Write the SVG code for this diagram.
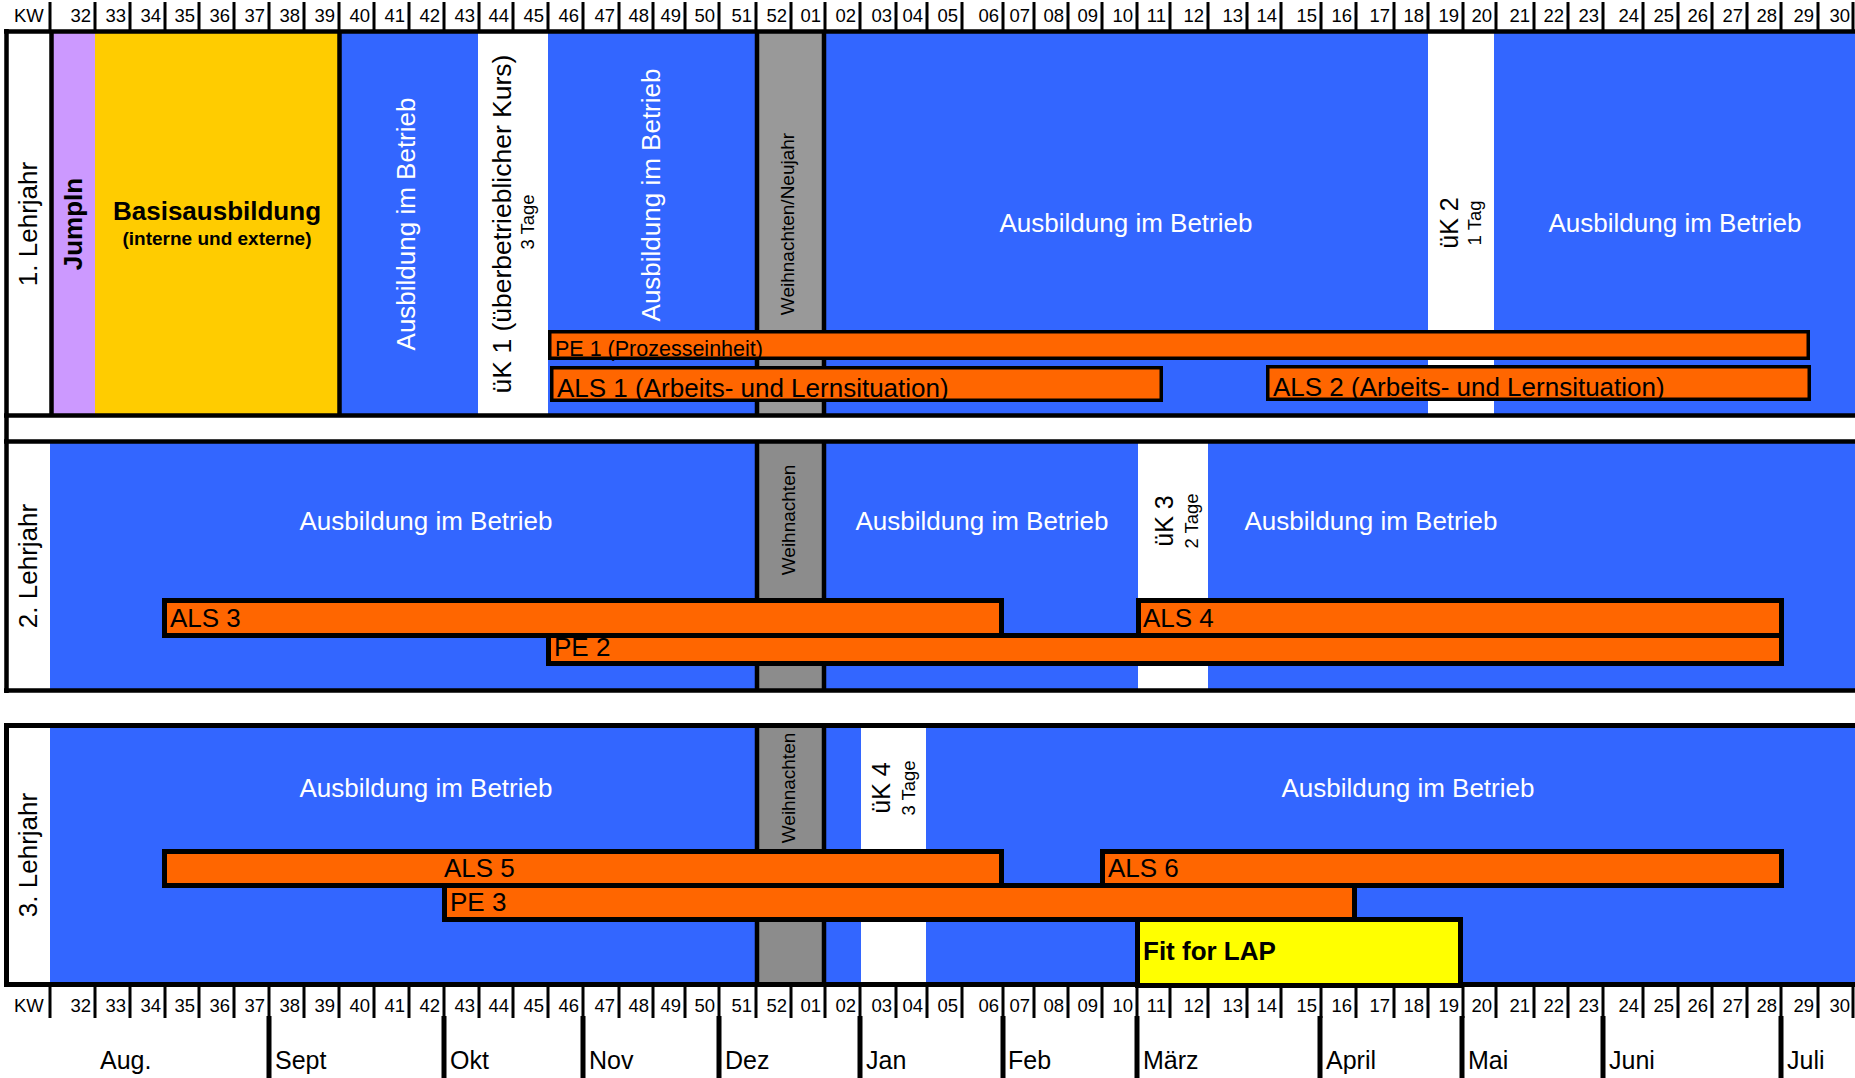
<svg xmlns="http://www.w3.org/2000/svg" width="1855" height="1078" viewBox="0 0 1855 1078">
<style>
text{font-family:"Liberation Sans",Arial,sans-serif;fill:#000}
.wk{font-size:18.5px;text-anchor:end}
.mo{font-size:25px}
.blue{fill:#3366FF}
.gray{fill:#999999}
.gray2{fill:#8C8C8C}
.white{fill:#FFFFFF}
.bar{fill:#FF6600;stroke:#000;stroke-width:3.5}
.bar5{fill:#FF6600;stroke:#000;stroke-width:5}
.ln{stroke:#000;fill:none}
.aib{font-size:26px;fill:#FFFFFF;text-anchor:middle}
.big{font-size:26px}
.uk{font-size:25px;text-anchor:middle}
.tage{font-size:18.5px;text-anchor:middle}
.xmas{font-size:19px;text-anchor:middle}
.lj{font-size:26px;text-anchor:middle}
.bt{font-size:26px}
</style>
<rect width="1855" height="1078" fill="#FFFFFF"/>

<g id="header-top">
<path class="ln" stroke-width="3" d="M50 2V32M95 2V32M130 2V32M165 2V32M199 2V32M234 2V32M269 2V32M304 2V32M339 2V32M374 2V32M409 2V32M444 2V32M479 2V32M513 2V32M548 2V32M583 2V32M619 2V32M653 2V32M685 2V32M719 2V32M756 2V32M791 2V32M825 2V32M860 2V32M896 2V32M927 2V32M962 2V32M1003 2V32M1034 2V32M1068 2V32M1102 2V32M1137 2V32M1170 2V32M1208 2V32M1247 2V32M1281 2V32M1321 2V32M1356 2V32M1394 2V32M1428 2V32M1463 2V32M1496 2V32M1534 2V32M1568 2V32M1603 2V32M1643 2V32M1678 2V32M1712 2V32M1747 2V32M1781 2V32M1818 2V32M1853 2V32"/>
<text x="14" y="22" style="font-size:18.5px">KW</text>
<g class="wk">
<text x="91" y="22">32</text><text x="126" y="22">33</text><text x="161" y="22">34</text><text x="195" y="22">35</text><text x="230" y="22">36</text><text x="265" y="22">37</text><text x="300" y="22">38</text><text x="335" y="22">39</text><text x="370" y="22">40</text><text x="405" y="22">41</text><text x="440" y="22">42</text><text x="475" y="22">43</text><text x="509" y="22">44</text><text x="544" y="22">45</text><text x="579" y="22">46</text><text x="615" y="22">47</text><text x="649" y="22">48</text><text x="681" y="22">49</text><text x="715" y="22">50</text><text x="752" y="22">51</text><text x="787" y="22">52</text><text x="821" y="22">01</text><text x="856" y="22">02</text><text x="892" y="22">03</text><text x="923" y="22">04</text><text x="958" y="22">05</text><text x="999" y="22">06</text><text x="1030" y="22">07</text><text x="1064" y="22">08</text><text x="1098" y="22">09</text><text x="1133" y="22">10</text><text x="1166" y="22">11</text><text x="1204" y="22">12</text><text x="1243" y="22">13</text><text x="1277" y="22">14</text><text x="1317" y="22">15</text><text x="1352" y="22">16</text><text x="1390" y="22">17</text><text x="1424" y="22">18</text><text x="1459" y="22">19</text><text x="1492" y="22">20</text><text x="1530" y="22">21</text><text x="1564" y="22">22</text><text x="1599" y="22">23</text><text x="1639" y="22">24</text><text x="1674" y="22">25</text><text x="1708" y="22">26</text><text x="1743" y="22">27</text><text x="1777" y="22">28</text><text x="1814" y="22">29</text><text x="1850" y="22">30</text>
</g>
</g>

<g id="year1-fills">
<rect x="53" y="32" width="42" height="383" fill="#CC99FF"/>
<rect x="95" y="32" width="244" height="383" fill="#FFCC00"/>
<rect class="blue" x="341" y="32" width="137" height="383"/>
<rect class="blue" x="548" y="32" width="209" height="383"/>
<rect class="gray" x="757" y="32" width="67" height="383"/>
<rect class="blue" x="824" y="32" width="604" height="383"/>
<rect class="blue" x="1494" y="32" width="366" height="383"/>
<path class="ln" stroke-width="4.5" d="M51.5 32V415M339.5 32V415M757 32V415M824 32V415"/>
</g>

<g id="year2-fills">
<rect class="blue" x="50" y="441" width="707" height="250"/>
<rect class="gray2" x="757" y="441" width="67" height="250"/>
<rect class="blue" x="824" y="441" width="314" height="250"/>
<rect class="blue" x="1208" y="441" width="652" height="250"/>
<path class="ln" stroke-width="4.5" d="M757 441V691M824 441V691"/>
</g>

<g id="year3-fills">
<rect class="blue" x="50" y="725" width="707" height="260"/>
<rect class="gray2" x="757" y="725" width="67" height="260"/>
<rect class="blue" x="824" y="725" width="37" height="260"/>
<rect class="blue" x="926" y="725" width="934" height="260"/>
<path class="ln" stroke-width="4.5" d="M757 725V985M824 725V985"/>
</g>

<g id="frame">
<path class="ln" stroke-width="4.5" d="M4 31.5H1860M6.5 29V693M4 415.5H1860M4 441.5H1860M4 690.5H1860"/>
<path class="ln" stroke-width="5" d="M4 725.5H1860M6.5 723V987M4 984.5H1860"/>
</g>

<g id="pe1"><rect class="bar" x="549.75" y="331.75" width="1258.5" height="26.5"/><text x="555" y="356" style="font-size:21.5px">PE 1 (Prozesseinheit)</text></g>
<g id="als1"><rect class="bar" x="551.75" y="367.75" width="609.5" height="32.5"/><text class="big" x="557" y="397">ALS 1 (Arbeits- und Lernsituation)</text></g>
<g id="als2"><rect class="bar" x="1267.75" y="366.75" width="541.5" height="32.5"/><text class="big" x="1273" y="396">ALS 2 (Arbeits- und Lernsituation)</text></g>

<g id="pe2"><rect class="bar5" x="548.5" y="635.5" width="1233" height="28"/><text class="big" x="554" y="656">PE 2</text></g>
<g id="als3"><rect class="bar5" x="164.5" y="600.5" width="837" height="35"/><text class="big" x="170" y="627">ALS 3</text></g>
<g id="als4"><rect class="bar5" x="1138.5" y="600.5" width="643" height="35"/><text class="big" x="1143" y="627">ALS 4</text></g>

<g id="pe3"><rect class="bar5" x="444.5" y="885.5" width="910" height="34"/><text class="big" x="450" y="911">PE 3</text></g>
<g id="als5"><rect class="bar5" x="164.5" y="851.5" width="837" height="34"/><text class="big" x="444" y="877">ALS 5</text></g>
<g id="als6"><rect class="bar5" x="1102.5" y="851.5" width="679" height="34"/><text class="big" x="1108" y="877">ALS 6</text></g>
<g id="fitforlap"><rect x="1137.5" y="919.5" width="323" height="66" fill="#FFFF00" stroke="#000" stroke-width="5"/><text x="1143" y="960" style="font-size:26px;font-weight:bold">Fit for LAP</text></g>

<g id="labels-year1">
<text class="lj" transform="translate(36.5 224) rotate(-90)">1. Lehrjahr</text>
<text transform="translate(81.5 224) rotate(-90)" style="font-size:26px;font-weight:bold;text-anchor:middle">JumpIn</text>
<text x="217" y="220" style="font-size:26px;font-weight:bold;text-anchor:middle">Basisausbildung</text>
<text x="217" y="245" style="font-size:19px;font-weight:bold;text-anchor:middle">(interne und externe)</text>
<text class="aib" transform="translate(414.5 224) rotate(-90)">Ausbildung im Betrieb</text>
<text transform="translate(511 224) rotate(-90)" style="font-size:26.5px;text-anchor:middle">üK 1 (überbetrieblicher Kurs)</text>
<text class="tage" transform="translate(534 222) rotate(-90)">3 Tage</text>
<text class="aib" transform="translate(659.5 195) rotate(-90)">Ausbildung im Betrieb</text>
<text class="xmas" transform="translate(794 224) rotate(-90)">Weihnachten/Neujahr</text>
<text class="aib" x="1126" y="232">Ausbildung im Betrieb</text>
<text class="uk" transform="translate(1458 223) rotate(-90)">üK 2</text>
<text class="tage" transform="translate(1481 223) rotate(-90)">1 Tag</text>
<text class="aib" x="1675" y="232">Ausbildung im Betrieb</text>
</g>

<g id="labels-year2">
<text class="lj" transform="translate(36.5 566) rotate(-90)">2. Lehrjahr</text>
<text class="aib" x="426" y="530">Ausbildung im Betrieb</text>
<text class="xmas" transform="translate(795 520) rotate(-90)">Weihnachten</text>
<text class="aib" x="982" y="530">Ausbildung im Betrieb</text>
<text class="uk" transform="translate(1173 521) rotate(-90)">üK 3</text>
<text class="tage" transform="translate(1198 521) rotate(-90)">2 Tage</text>
<text class="aib" x="1371" y="530">Ausbildung im Betrieb</text>
</g>

<g id="labels-year3">
<text class="lj" transform="translate(36.5 855) rotate(-90)">3. Lehrjahr</text>
<text class="aib" x="426" y="797">Ausbildung im Betrieb</text>
<text class="xmas" transform="translate(795 788) rotate(-90)">Weihnachten</text>
<text class="uk" transform="translate(890 788) rotate(-90)">üK 4</text>
<text class="tage" transform="translate(915 788) rotate(-90)">3 Tage</text>
<text class="aib" x="1408" y="797">Ausbildung im Betrieb</text>
</g>

<g id="header-bottom">
<path class="ln" stroke-width="3" d="M50 987V1018M95 987V1018M130 987V1018M165 987V1018M199 987V1018M234 987V1018M269 987V1018M304 987V1018M339 987V1018M374 987V1018M409 987V1018M444 987V1018M479 987V1018M513 987V1018M548 987V1018M583 987V1018M619 987V1018M653 987V1018M685 987V1018M719 987V1018M756 987V1018M791 987V1018M825 987V1018M860 987V1018M896 987V1018M927 987V1018M962 987V1018M1003 987V1018M1034 987V1018M1068 987V1018M1102 987V1018M1137 987V1018M1170 987V1018M1208 987V1018M1247 987V1018M1281 987V1018M1321 987V1018M1356 987V1018M1394 987V1018M1428 987V1018M1463 987V1018M1496 987V1018M1534 987V1018M1568 987V1018M1603 987V1018M1643 987V1018M1678 987V1018M1712 987V1018M1747 987V1018M1781 987V1018M1818 987V1018M1853 987V1018"/>
<text x="14" y="1012" style="font-size:18.5px">KW</text>
<g class="wk">
<text x="91" y="1012">32</text><text x="126" y="1012">33</text><text x="161" y="1012">34</text><text x="195" y="1012">35</text><text x="230" y="1012">36</text><text x="265" y="1012">37</text><text x="300" y="1012">38</text><text x="335" y="1012">39</text><text x="370" y="1012">40</text><text x="405" y="1012">41</text><text x="440" y="1012">42</text><text x="475" y="1012">43</text><text x="509" y="1012">44</text><text x="544" y="1012">45</text><text x="579" y="1012">46</text><text x="615" y="1012">47</text><text x="649" y="1012">48</text><text x="681" y="1012">49</text><text x="715" y="1012">50</text><text x="752" y="1012">51</text><text x="787" y="1012">52</text><text x="821" y="1012">01</text><text x="856" y="1012">02</text><text x="892" y="1012">03</text><text x="923" y="1012">04</text><text x="958" y="1012">05</text><text x="999" y="1012">06</text><text x="1030" y="1012">07</text><text x="1064" y="1012">08</text><text x="1098" y="1012">09</text><text x="1133" y="1012">10</text><text x="1166" y="1012">11</text><text x="1204" y="1012">12</text><text x="1243" y="1012">13</text><text x="1277" y="1012">14</text><text x="1317" y="1012">15</text><text x="1352" y="1012">16</text><text x="1390" y="1012">17</text><text x="1424" y="1012">18</text><text x="1459" y="1012">19</text><text x="1492" y="1012">20</text><text x="1530" y="1012">21</text><text x="1564" y="1012">22</text><text x="1599" y="1012">23</text><text x="1639" y="1012">24</text><text x="1674" y="1012">25</text><text x="1708" y="1012">26</text><text x="1743" y="1012">27</text><text x="1777" y="1012">28</text><text x="1814" y="1012">29</text><text x="1850" y="1012">30</text>
</g>
</g>

<g id="months">
<path class="ln" stroke-width="5" d="M269 1016V1078M444 1016V1078M583 1016V1078M719 1016V1078M860 1016V1078M1003 1016V1078M1137 1016V1078M1320 1016V1078M1462 1016V1078M1603 1016V1078M1781 1016V1078"/>
<text class="mo" x="100" y="1069">Aug.</text>
<text class="mo" x="275" y="1069">Sept</text>
<text class="mo" x="450" y="1069">Okt</text>
<text class="mo" x="589" y="1069">Nov</text>
<text class="mo" x="725" y="1069">Dez</text>
<text class="mo" x="866" y="1069">Jan</text>
<text class="mo" x="1008" y="1069">Feb</text>
<text class="mo" x="1143" y="1069">März</text>
<text class="mo" x="1326" y="1069">April</text>
<text class="mo" x="1468" y="1069">Mai</text>
<text class="mo" x="1609" y="1069">Juni</text>
<text class="mo" x="1787" y="1069">Juli</text>
</g>
</svg>
